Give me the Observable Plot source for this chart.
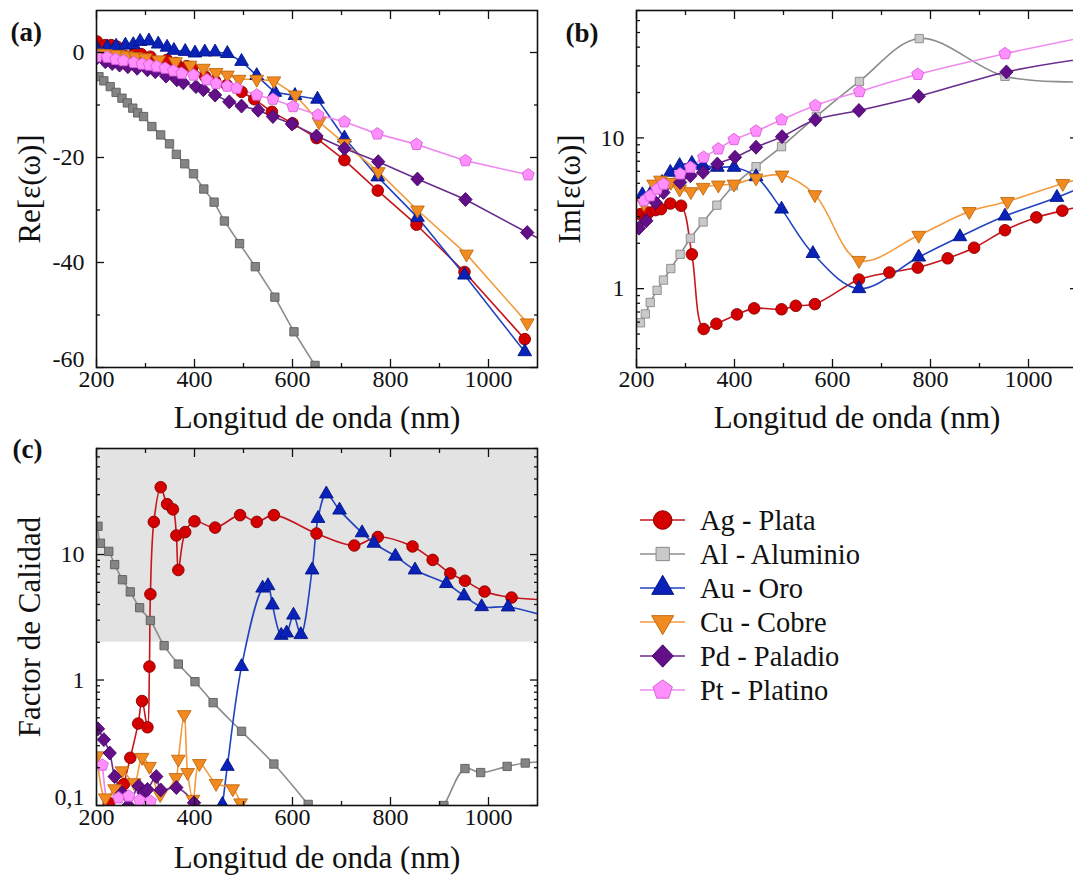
<!DOCTYPE html>
<html><head><meta charset="utf-8">
<script src="https://cdn.jsdelivr.net/npm/d3@7"></script>
<script src="https://cdn.jsdelivr.net/npm/@observablehq/plot@0.6"></script>
<style>
html,body{margin:0;padding:0;background:#fff;overflow:hidden}
#root{position:relative;width:1073px;height:876px;overflow:hidden;background:#fff}
#root svg{position:absolute;background:transparent;max-width:none}
#root svg, #root svg text{font-family:"Liberation Serif","Times New Roman",serif}
</style></head>
<body><div id="root"></div>
<script>
// ---------- data: [wavelength nm, value] ----------
// (a) Re[eps]
const reAg = [[201,2.1],[218,1.4],[230,1.4],[242,1.1],[276,-0.3],[291,-0.3],[310,-0.8],[344,-1.4],[362,-2.0],[384,-2.6],[395,-2.9],[422,-4.6],[442,-5.4],[466,-6.2],[496,-7.5],[522,-8.9],[558,-11.3],[600,-13.5],[649,-16.3],[706,-20.5],[774,-26.3],[853,-32.8],[951,-41.8],[1074,-54.6]];
const reAl = [[205,-4.6],[215,-5.4],[228,-6.5],[240,-7.6],[252,-8.7],[263,-9.6],[274,-10.6],[284,-11.5],[296,-12.2],[313,-14.1],[331,-15.7],[349,-17.4],[363,-19.4],[380,-21.2],[398,-23.1],[419,-26.0],[440,-28.5],[461,-32.1],[492,-36.4],[524,-40.8],[564,-46.6],[603,-53.2],[646,-59.6]];
const reAu = [[201,0.7],[222,1.0],[240,1.2],[259,1.4],[275,1.5],[289,2.1],[307,2.2],[326,1.6],[344,1.0],[358,0.4],[381,0.2],[401,-0.1],[421,0.1],[442,0.1],[467,-0.2],[496,-1.7],[527,-4.4],[564,-7.6],[605,-8.2],[651,-8.9],[706,-16.3],[774,-23.7],[855,-31.4],[951,-42.4],[1074,-57]];
const reCu = [[201,-0.1],[218,-0.2],[242,-0.35],[262,-0.6],[280,-0.8],[300,-1.0],[327,-1.4],[361,-1.75],[391,-2.4],[418,-3.0],[444,-3.8],[467,-4.3],[491,-5.1],[527,-5.1],[562,-5.4],[606,-8.1],[654,-13.2],[706,-17.3],[775,-22.7],[855,-30],[955,-38.4],[1079,-51.5]];
const rePd = [[201,-1.0],[218,-1.75],[232,-2.1],[247,-2.4],[264,-2.7],[283,-3.0],[304,-3.3],[320,-3.65],[342,-4.5],[364,-5.2],[377,-5.75],[403,-6.5],[418,-7.1],[442,-8.1],[471,-9.4],[496,-10.2],[530,-11],[560,-12.2],[599,-13.6],[649,-15.9],[706,-18.3],[775,-20.8],[855,-24.1],[953,-28],[1079,-34.3],[1120,-36.3]];
const rePt = [[201,-0.8],[222,-0.9],[239,-1.3],[255,-1.55],[276,-1.9],[293,-2.2],[308,-2.4],[323,-2.7],[340,-3.0],[357,-3.5],[374,-4.0],[398,-4.3],[425,-5.2],[444,-5.9],[467,-6.4],[486,-6.8],[527,-8.1],[560,-8.9],[601,-10.3],[652,-11.9],[706,-13.2],[773,-15.5],[853,-17.5],[953,-20.6],[1081,-23.3]];
// (b) Im[eps]
const imAg = [[208,3.12],[218,2.89],[225,3.2],[239,3.32],[250,3.37],[269,3.67],[291,3.55],[313,1.69],[337,0.54],[363,0.585],[405,0.675],[440,0.74],[496,0.73],[525,0.77],[564,0.79],[654,1.15],[716,1.28],[774,1.38],[835,1.59],[889,1.87],[952,2.44],[1016,2.97],[1069,3.29],[1120,3.6]];
const imAl = [[208,0.594],[218,0.68],[228,0.81],[242,0.975],[255,1.14],[270,1.36],[289,1.69],[310,2.16],[336,2.77],[364,3.58],[398,4.82],[444,6.44],[496,8.75],[567,13.9],[655,23.7],[777,45.6],[952,25.6],[1120,23.5]];
const imAu = [[212,4.2],[234,4.58],[252,5.07],[269,5.91],[288,6.55],[313,6.78],[336,6.55],[365,6.38],[399,6.38],[444,5.53],[496,3.37],[560,1.71],[654,1.0],[776,1.62],[860,2.21],[952,3.03],[1058,4.03],[1120,4.9]];
const imCu = [[215,3.67],[235,4.94],[249,5.25],[270,5.07],[288,4.58],[311,4.4],[336,4.7],[367,4.87],[399,4.94],[444,5.42],[497,5.67],[564,4.2],[654,1.54],[776,2.26],[879,3.25],[957,3.79],[1070,4.99],[1120,5.5]];
const imPd = [[205,2.52],[220,2.82],[239,3.73],[255,4.35],[289,5.07],[310,5.61],[336,5.91],[365,6.71],[401,7.44],[444,8.67],[497,10.2],[565,13.2],[654,15.2],[776,18.9],[955,27.4],[1120,33.8]];
const imPt = [[215,3.83],[228,4.13],[242,4.58],[255,4.94],[289,5.77],[310,6.38],[337,7.44],[367,8.45],[399,9.75],[444,11.1],[496,13.2],[565,16.4],[655,20.3],[774,26.4],[952,36.2],[1120,47]];
// (c) quality factor
const qAg = [[212,0.09],[225,0.105],[252,0.124],[256,0.148],[269,0.24],[285,0.45],[293,0.68],[304,0.42],[308,1.28],[310,4.83],[317,18.2],[331,34.4],[344,25.2],[356,22.9],[363,14.2],[367,7.53],[381,15.1],[400,18.4],[442,16.4],[493,20.6],[527,18.2],[562,20.6],[649,14.7],[726,11.8],[774,13.8],[845,11.6],[886,9.06],[922,7.08],[952,6.18],[992,5.07],[1047,4.54],[1120,4.35]];
const qAl = [[203,16.8],[208,12.3],[225,10.6],[237,8.31],[253,6.3],[269,5.04],[288,3.77],[310,2.98],[338,1.88],[367,1.34],[401,0.97],[438,0.66],[496,0.39],[562,0.214],[632,0.102],[680,0.06],[870,0.06],[909,0.1],[952,0.197],[984,0.183],[1038,0.205],[1075,0.218],[1120,0.225]];
const qAu = [[452,0.08],[457,0.102],[467,0.205],[496,1.28],[539,5.4],[550,5.64],[559,3.96],[577,2.27],[588,2.37],[602,3.29],[617,2.3],[640,7.53],[652,19.4],[669,30.4],[696,22.6],[742,14.9],[766,12.3],[810,9.7],[850,7.53],[914,5.87],[950,4.68],[986,3.84],[1040,3.82],[1120,3.2]];
const qCu = [[201,0.249],[218,0.115],[237,0.136],[252,0.189],[277,0.152],[293,0.242],[308,0.205],[330,0.122],[362,0.167],[367,0.234],[379,0.53],[386,0.183],[397,0.112],[410,0.216],[444,0.15],[478,0.136],[494,0.105],[505,0.08]];
const qPd = [[203,0.408],[215,0.335],[227,0.262],[237,0.17],[252,0.126],[265,0.1],[286,0.143],[296,0.126],[304,0.134],[322,0.17],[331,0.133],[363,0.139],[399,0.105],[410,0.085]];
const qPt = [[212,0.21],[228,0.09],[245,0.115],[266,0.119],[288,0.11],[310,0.108],[320,0.09]];
const qualityBand = [2, 70];

const xMajor = [200,400,600,800,1000];
const xMinor = [300,500,700,900];
const reMajor = [0,-20,-40,-60], reMinor = [-10,-30,-50];
const imMajor = [1,10], imMinor = [0.3,0.4,0.5,0.6,0.7,0.8,0.9,2,3,4,5,6,7,8,9,20,30,40,50,60,70];
const qMajor = [0.1,1,10], qMinor = [0.2,0.3,0.4,0.5,0.6,0.7,0.8,0.9,2,3,4,5,6,7,8,9,20,30,40,50,60,70];
const legendNames = ["Ag - Plata","Al - Aluminio","Au - Oro","Cu - Cobre","Pd - Paladio","Pt - Platino"];

// ---------- symbols ----------
const sqrt3 = Math.sqrt(3);
const triDown = {draw(c, size){ const y = -Math.sqrt(size/(sqrt3*3)); c.moveTo(0,-y*2); c.lineTo(-sqrt3*y, y); c.lineTo(sqrt3*y, y); c.closePath(); }};
const diamond = {draw(c, size){ const h = Math.sqrt(size/2); c.moveTo(0,-h*1.05); c.lineTo(h,0); c.lineTo(0,h*1.05); c.lineTo(-h,0); c.closePath(); }};
const pentagon = {draw(c, size){ const R = Math.sqrt(size/2.378); for (let i=0;i<5;i++){ const a=-Math.PI/2+i*2*Math.PI/5; const x=R*Math.cos(a), y=R*Math.sin(a); if(i) c.lineTo(x,y); else c.moveTo(x,y);} c.closePath(); }};

const styles = [
  {fill:"#d40000", stroke:"#8c0000", line:"#c4161c", symbol:d3.symbolCircle, r:5.8},
  {fill:"#858585", stroke:"#5e5e5e", fillB:"#c9c9c9", strokeB:"#8a8a8a", line:"#8c8c8c", symbol:d3.symbolSquare, r:4.7},
  {fill:"#0b22b8", stroke:"#001488", line:"#2242c0", symbol:d3.symbolTriangle, r:5.1},
  {fill:"#f28a22", stroke:"#c06a10", line:"#f29a3c", symbol:triDown, r:5.1},
  {fill:"#620f88", stroke:"#45066a", line:"#6a2c8c", symbol:diamond, r:5.3},
  {fill:"#ff8eff", stroke:"#d860d8", line:"#ef8aef", symbol:pentagon, r:5.5}
];

const FONT = '"Liberation Serif","Times New Roman",serif';

function axes(yMajor, yMinor, yFmt, yCorner){
  const c = {strokeWidth:1.3, label:null};
  const none = () => "";
  const yRest = yMajor.filter(v => v !== yCorner);
  const out = [
    Plot.axisX({...c, anchor:"bottom", ticks:xMajor, tickSize:-8, tickPadding:10, tickFormat:d=>String(d), fontSize:24}),
    Plot.axisX({...c, anchor:"bottom", ticks:xMinor, tickSize:-4, tickFormat:none}),
    Plot.axisX({...c, anchor:"top", ticks:xMajor, tickSize:-8, tickFormat:none}),
    Plot.axisX({...c, anchor:"top", ticks:xMinor, tickSize:-4, tickFormat:none}),
    Plot.axisY({...c, anchor:"left", ticks:yRest, tickSize:-8, tickPadding:20, tickFormat:yFmt, fontSize:24}),
    Plot.axisY({...c, anchor:"left", ticks:yMinor, tickSize:-4, tickFormat:none}),
    Plot.axisY({...c, anchor:"right", ticks:yMajor, tickSize:-8, tickFormat:none}),
    Plot.axisY({...c, anchor:"right", ticks:yMinor, tickSize:-4, tickFormat:none})
  ];
  if (yCorner != null) {
    out.push(Plot.axisY({...c, anchor:"left", ticks:[yCorner], tickSize:-8, tickFormat:none}));
    out.push(Plot.axisY({label:null, anchor:"left", ticks:[yCorner], tickSize:0, tickPadding:12, tickFormat:yFmt, fontSize:24, dy:-8}));
  }
  return out;
}

function panel({data, y, yMajor, yMinor, yFmt, yCorner, yLabel, tag, tagDx, tagDy, curve, band, light, xTitleDy}){
  const marks = [];
  if (band) marks.push(Plot.rect([band], {x1:()=>200, x2:()=>1100, y1:d=>d[0], y2:d=>d[1], fill:"#e3e3e3", clip:true}));
  data.forEach((d,i)=>{
    marks.push(Plot.line(d, {x:p=>p[0], y:p=>p[1], stroke:styles[i].line, strokeWidth:1.6, curve, clip:true}));
  });
  data.forEach((d,i)=>{
    const s = styles[i];
    marks.push(Plot.dot(d, {x:p=>p[0], y:p=>p[1], symbol:s.symbol, r:s.r,
      fill: light && s.fillB ? s.fillB : s.fill, stroke: light && s.strokeB ? s.strokeB : s.stroke, strokeWidth:0.9, clip:true}));
  });
  marks.push(...axes(yMajor, yMinor, yFmt, yCorner));
  marks.push(Plot.frame({strokeWidth:1.6}));
  marks.push(Plot.text(["Longitud de onda (nm)"], {text:d=>d, frameAnchor:"bottom", dy:xTitleDy, lineAnchor:"middle", fontSize:31}));
  marks.push(Plot.text([yLabel], {text:d=>d, frameAnchor:"left", dx:-66, rotate:-90, textAnchor:"middle", lineAnchor:"middle", fontSize:31}));
  marks.push(Plot.text([tag], {text:d=>d, frameAnchor:"top-left", dx:tagDx, dy:tagDy, textAnchor:"start", lineAnchor:"middle", fontSize:27, fontWeight:"bold"}));
  return Plot.plot({
    width:540, height:440, marginLeft:96, marginRight:3, marginTop:10, marginBottom:73,
    x:{domain:[200,1100]}, y,
    style:{fontFamily:FONT, color:"#111", background:"transparent", overflow:"visible"},
    marks
  });
}

const root = document.getElementById("root");
function place(el, left, top){ el.style.left = left+"px"; el.style.top = top+"px"; root.appendChild(el); }

place(panel({data:[reAg,reAl,reAu,reCu,rePd,rePt], y:{domain:[-60,8]}, yMajor:reMajor, yMinor:reMinor,
  yFmt:d=>String(d), yCorner:-60, yLabel:"Re[ε(ω)]", tag:"(a)", tagDx:-86, tagDy:22, curve:"linear", xTitleDy:51}), 0, 0);
place(panel({data:[imAg,imAl,imAu,imCu,imPd,imPt], y:{type:"log", domain:[0.3,70]}, yMajor:imMajor, yMinor:imMinor,
  yFmt:d=>String(d), yCorner:null, yLabel:"Im[ε(ω)]", tag:"(b)", tagDx:-71, tagDy:23, curve:"catmull-rom", light:true, xTitleDy:51}), 540, 0);
place(panel({data:[qAg,qAl,qAu,qCu,qPd,qPt], y:{type:"log", domain:[0.1,70]}, yMajor:qMajor, yMinor:qMinor,
  yFmt:d=>d===0.1?"0,1":String(d), yCorner:0.1, yLabel:"Factor de Calidad", tag:"(c)", tagDx:-84, tagDy:1, curve:"catmull-rom", band:qualityBand, xTitleDy:53}), 0, 438);

// ---------- legend ----------
const lg = d3.create("svg").attr("width",320).attr("height",220).style("font-family",FONT);
legendNames.forEach((name,i)=>{
  const s = styles[i];
  const yy = 30 + i*34;
  const g = lg.append("g").attr("transform",`translate(0,${yy})`);
  g.append("line").attr("x1",40).attr("x2",85).attr("y1",0).attr("y2",0).attr("stroke",s.line).attr("stroke-width",1.6);
  const R = s.r*1.6;
  g.append("path").attr("transform","translate(62.7,0)")
    .attr("d", d3.symbol().type(s.symbol).size(Math.PI*R*R)())
    .attr("fill", s.fillB || s.fill).attr("stroke", s.strokeB || s.stroke).attr("stroke-width",1);
  g.append("text").attr("x",100).attr("y",0).attr("dy","0.35em").attr("font-size",28.5).attr("fill","#111").text(name);
});
place(lg.node(), 600, 490);
</script>
</body></html>
